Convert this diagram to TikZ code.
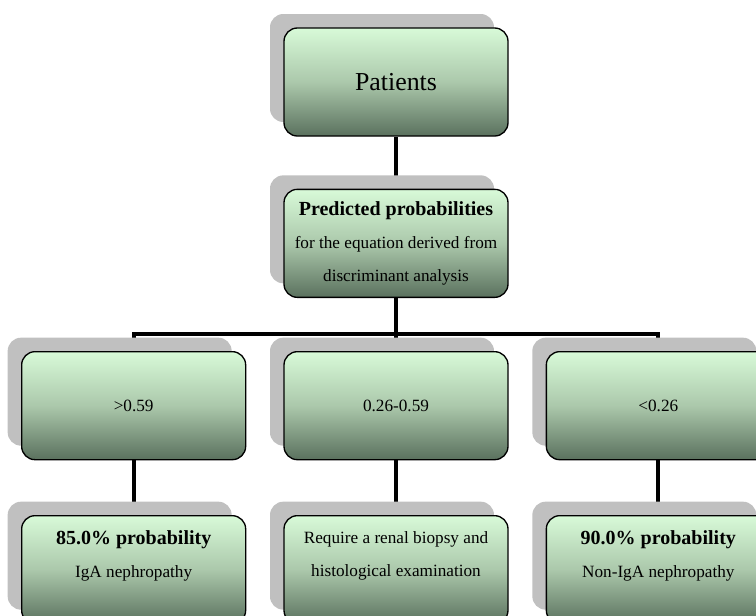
\documentclass[tikz,border=0pt]{standalone}
\usepackage{fontspec}
\setmainfont{Liberation Serif}
\usetikzlibrary{positioning, shadows, backgrounds, calc}
\definecolor{boxtop}{RGB}{216,250,216}
\definecolor{boxmid}{RGB}{171,200,171}
\definecolor{boxbot}{RGB}{90,113,94}
\definecolor{shadowc}{RGB}{192,192,192}
\tikzset{
  card/.style={draw, line width=1pt, rounded corners=10pt,
               top color=boxtop, bottom color=boxbot, middle color=boxmid,
               minimum width=168pt, minimum height=81pt, align=center,
               inner sep=0pt, font=\fontsize{12.9}{25}\selectfont,
               general shadow={fill=shadowc, shadow xshift=-10.5pt,
                               shadow yshift=10.5pt}},
  result/.style={card, text depth=23pt},
  link/.style={line width=3pt},
}
\newcommand{\headfont}{\fontsize{15}{25}\selectfont\bfseries}

\begin{document}
\begin{tikzpicture}[node distance=39.75pt and 27.75pt]
  \path[use as bounding box, clip] (0,0) rectangle (567pt,-461.25pt);
  \node[card, font=\fontsize{19.4}{23}\selectfont] (pat) at (297pt,-61.5pt) {Patients};
  \node[card, below=39pt of pat] (pred)
    {{\headfont Predicted probabilities}\\for the equation derived from\\discriminant analysis};
  \node[card, below=of pred] (mid) {0.26-0.59};
  \node[card, left=of mid]   (gt)  {>0.59};
  \node[card, right=of mid]  (lt)  {<0.26};
  \node[result, below=41pt of gt]  (igan)   {{\headfont 85.0\% probability}\\IgA nephropathy};
  \node[result, below=41pt of mid] (biopsy) {Require a renal biopsy and\\histological examination};
  \node[result, below=41pt of lt]  (nonigan) {{\headfont 90.0\% probability}\\Non-IgA nephropathy};
  \coordinate (bar) at ([yshift=12.75pt]mid.north);
  \begin{scope}[on background layer]
    \draw[link] (pat) -- (pred);
    \draw[link] (pred) -- (mid);
    \draw[link] (gt.north) |- (bar) -| (lt.north);
    \draw[link] (gt) -- (igan);
    \draw[link] (mid) -- (biopsy);
    \draw[link] (lt) -- (nonigan);
  \end{scope}
\end{tikzpicture}
\end{document}
